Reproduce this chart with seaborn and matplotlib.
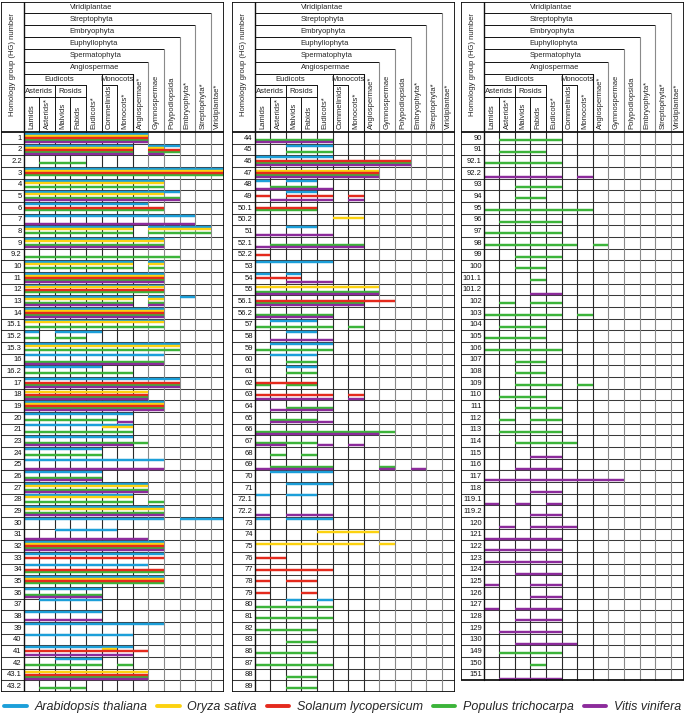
import matplotlib
matplotlib.use("Agg")
import matplotlib.pyplot as plt
import seaborn as sns
import pandas as pd
from matplotlib.lines import Line2D

sns.set_theme(style="white")
plt.rcParams["font.family"] = ["Liberation Sans", "DejaVu Sans"]

# ---------------- data ----------------
COLUMNS = ["Lamids", "Asterids*", "Malvids", "Fabids", "Eudicots*", "Commelinids",
           "Monocots*", "Angiospermae*", "Gymnospermae", "Polypodiopsida",
           "Embryophyta*", "Streptophyta*", "Viridiplantae*"]
SPECIES = ["Arabidopsis thaliana", "Oryza sativa", "Solanum lycopersicum",
           "Populus trichocarpa", "Vitis vinifera"]
CODES = ["A", "O", "S", "P", "V"]
COLORS = ["#1c9fd9", "#fcd20f", "#e42a1d", "#3cb43a", "#8c2b9b"]

LEVELS = ["Viridiplantae", "Streptophyta", "Embryophyta", "Euphyllophyta",
          "Spermatophyta", "Angiospermae"]

PANEL1_HG = ["1", "2", "2.2", "3", "4", "5", "6", "7", "8", "9", "9.2", "10", "11", "12",
             "13", "14", "15.1", "15.2", "15.3", "16", "16.2", "17", "18", "19", "20",
             "21", "23", "24", "25", "26", "27", "28", "29", "30", "31", "32", "33",
             "34", "35", "36", "37", "38", "39", "40", "41", "42", "43.1", "43.2"]
PANEL1_SPANS = [
    "A0-7 O0-7 S0-7 P0-7 V0-7", "A0-6,8-9 O0-6,8 S0-6,8-9 P0-6,8-9 V0-6,8", "P1-3",
    "A0-12 O0-12 S0-12 P0-12", "A0-8 O0-8 P0-8", "A0-9 O0-8 P0-9 V0-9", "A0-7 S0-8 P0-8",
    "A0-10 V0-10", "A0-6,8-11 O0-6,8-11 P0-6,8-11", "A0-8 O0-8 P0-8 V0-8", "P0-9",
    "A0-6,8 O0-6,8 P0-6,8", "A0-8 O0-8 S0-8 P0-8 V0-8", "A0-8 O0-8 S0-8 P0-8",
    "A0-6,8,10 O0-6,8 P0-6,8 V0-6,8", "A0-8 O0-8 S0-8 P0-8 V0-8", "A0-8 O0-8 P0-8",
    "A0,2-4 P0,2-3", "A0-9 O0-9 P0-9", "A0-8 P0-8 V0-8", "A0-4 P0-6",
    "A0-9 S0-9 P0-9 V0-9", "O0-7 S0-7 P0-7 V0-7", "A0-8 O0-8 S0-8 P0-8 V0-8",
    "A0-6 P0-5 V6", "A0-6 O5-6 P0-6", "A0-6 P0-7 V0-6", "A0-4 P0-4", "A0-8 V0-8",
    "A0-4 P0-4 V0-4", "A0-7 O0-7 P0-7 V0-7", "A0-6 O0-6 P0-6,8", "A0-8 O0-8 P0-8 V0-8",
    "A0-8,10-12", "A2-5 V0-7", "A0-8 O0-8 S0-8 P0-8 V0-8", "A0-8 S0-8",
    "A0-7 S0-8 P0-8", "A0-8 O0-8 S0-8 P0-8", "A0-4 P0-4 V0-4", "A1-4", "A0-4 V0-4",
    "A0-8", "A0-6", "A0-6 O5 S0-7 V0-6", "A2-4 P0-4,6", "O0-7 S0-7 P0-7 V0-7", "P1-3"]

PANEL2_HG = ["44", "45", "46", "47", "48", "49", "50.1", "50.2", "51", "52.1", "52.2",
             "53", "54", "55", "56.1", "56.2", "57", "58", "59", "60", "61", "62", "63",
             "64", "65", "66", "67", "68", "69", "70", "71", "72.1", "72.2", "73", "74",
             "75", "76", "77", "78", "79", "80", "81", "82", "83", "86", "87", "88", "89"]
PANEL2_SPANS = [
    "P0-4 V0-4", "A2-4 P2-4", "A0-4 S0-9 P0-9 V0-9", "O0-7 S0-7 P0-7 V0-7",
    "A0,2-3 P1-3 V0-4", "A2-3 S0,2-4,6 V1-4,6", "S0-3 P0-3", "O5-6", "A2-3 V0-4",
    "P1-6 V0-6", "S0", "A0-4", "A0,2 S0-2 V2-4", "O0-7 P0-7 V0-7", "S0-8 P0-6 V0-6",
    "P0-4 V0-4", "A1-3 P0-4,6", "A2-3 V1-4", "A1-4 P0-4", "A1-3 P2-3", "A2-3 P2-3",
    "S0-3 P0,2-3", "S0-4,6 V0-4,6", "P2-4 V1-4", "P1-3 V1-4", "P0-8 V0-7",
    "P0-3 V0-1,4,6", "P1,3", "P1-4,8 V0-4,8,10", "A1-4", "A2-4", "A0,2-3", "V0,2-4",
    "A0,2-4", "O4-7", "O0-6,8", "S0-1", "S0-4", "S0,2-3", "S0,3", "A2,4 P0-4", "P0-4",
    "P0-3", "P2-3", "P0-3", "P0-4", "P2-3", "P2-3"]

PANEL3_HG = ["90", "91", "92.1", "92.2", "93", "94", "95", "96", "97", "98", "99", "100",
             "101.1", "101.2", "102", "103", "104", "105", "106", "107", "108", "109",
             "110", "111", "112", "113", "114", "115", "116", "117", "118", "119.1",
             "119.2", "120", "121", "122", "123", "124", "125", "126", "127", "128",
             "129", "130", "149", "150", "151"]
PANEL3_SPANS = [
    "P1-4", "P1-3", "P0-4", "V0-4,6", "P2-4", "P2-3", "P0-6", "P1-4", "P0-4", "P0-5,7",
    "P2-4", "P2-3", "P3", "V3-4", "P1,3-4", "P0-4,6", "P1-3", "P0-3", "P0-4", "P2-3",
    "P2-3", "P2-4,6", "P1-3", "P2-4", "P1,3-4", "P1-4", "P2-5", "V3-4", "V2-4", "V0-8",
    "V3-4", "V0,2,4", "V3-4", "V1,3-5", "V0-4", "V0-4", "V0-4", "V2-4", "V0,3-4", "V3-4",
    "V0,2-4", "V2-4", "V1-4", "V2-5", "P1-4", "P3", "V1-4"]

PANELS = [(PANEL1_HG, PANEL1_SPANS), (PANEL2_HG, PANEL2_SPANS), (PANEL3_HG, PANEL3_SPANS)]

# ---------------- layout ----------------
EDGES = list(range(13)) + [12.85]
XL = -1.45
XR = EDGES[-1]
TOP = -11.2
NMAX = 48
LEVEL_BOTTOMS = [-10.2, -9.15, -8.15, -7.1, -6.05, -5.0]
LEVEL_RIGHT = [12, 11, 10, 9, 8, 7]
SLOT = {"A": 0.15, "O": 0.32, "S": 0.5, "P": 0.68, "V": 0.85}
FS = 5.5


def parse(spec):
    out = []
    for tok in spec.split():
        code, ranges = tok[0], tok[1:]
        for r in ranges.split(","):
            if "-" in r:
                a, b = r.split("-")
            else:
                a = b = r
            out.append((code, int(a), int(b)))
    return out


records = []
for p, (hgs, spans) in enumerate(PANELS):
    for r, (hg, spec) in enumerate(zip(hgs, spans)):
        for code, a, b in parse(spec):
            records.append(dict(panel=p, row=r, hg=hg, species=SPECIES[CODES.index(code)],
                                code=code, x0=EDGES[a], x1=EDGES[b + 1],
                                y=r + SLOT[code]))
df = pd.DataFrame(records)
palette = dict(zip(SPECIES, sns.color_palette(COLORS)))

W, H = 685, 715
fig = plt.figure(figsize=(W / 100, H / 100), dpi=100)
fig.patch.set_facecolor("white")
panel_px = [(1, 224), (232, 455), (461, 684)]
top_px, bot_px = 1.5, 692.0

dark = "#111111"
hgrid = "#3a3a3a"
vdark = "#2a2a2a"
vlight = "#8a8a8a"

for p, (hgs, spans) in enumerate(PANELS):
    l, r = panel_px[p]
    ax = fig.add_axes([l / W, 1 - bot_px / H, (r - l) / W, (bot_px - top_px) / H])
    ax.set_xlim(XL, XR)
    ax.set_ylim(NMAX, TOP)
    ax.axis("off")
    n = len(hgs)

    # body grid
    for i in range(1, n):
        ax.plot([XL, XR], [i, i], color=hgrid, lw=0.75, zorder=1)
    for k, x in enumerate(EDGES[1:-1], start=1):
        ax.plot([x, x], [0, n], color=vdark if k <= 7 else vlight, lw=0.8, zorder=1)

    # species lines
    sub = df[df.panel == p]
    for sp, g in sub.groupby("species"):
        lc = ax.hlines(g.y, g.x0, g.x1, color=palette[sp], lw=1.75, zorder=3)
        lc.set_capstyle("butt")

    # row labels
    for i, hg in enumerate(hgs):
        ax.text(-0.12, i + 0.52, hg, ha="right", va="center", fontsize=FS, color="#111111")

    # header structure
    prev = TOP
    for name, yb, xr in zip(LEVELS, LEVEL_BOTTOMS, LEVEL_RIGHT):
        ax.plot([0, xr], [yb, yb], color=dark, lw=0.7, zorder=2)
        ax.plot([xr, xr], [yb, 0], color=vlight if xr >= 8 else dark, lw=0.8, zorder=2)
        ax.text(2.95, (prev + yb) / 2, name, ha="left", va="center", fontsize=FS)
        prev = yb
    # Eudicots / Monocots
    ax.plot([0, 4], [-4.0, -4.0], color=dark, lw=0.7)
    ax.plot([5, 6], [-4.0, -4.0], color=dark, lw=0.7)
    for x, y0 in [(4, -4.0), (5, -5.0), (6, -4.0), (2, -4.0), (1, -3.0), (3, -3.0)]:
        ax.plot([x, x], [y0, 0], color=dark, lw=0.7)
    ax.text(2.3, -4.5, "Eudicots", ha="center", va="center", fontsize=FS)
    ax.text(6.0, -4.5, "Monocots", ha="center", va="center", fontsize=FS)
    ax.plot([0, 4], [-3.0, -3.0], color=dark, lw=0.7)
    ax.text(1.0, -3.5, "Asterids", ha="center", va="center", fontsize=FS)
    ax.text(3.0, -3.5, "Rosids", ha="center", va="center", fontsize=FS)
    for i, c in enumerate(COLUMNS):
        xc = (EDGES[i] + EDGES[i + 1]) / 2
        ax.text(xc, -0.3, c, rotation=90, ha="center", va="bottom", fontsize=FS)
    ax.text((XL + 0) / 2, -5.8, "Homology group (HG) number", rotation=90,
            ha="center", va="center", fontsize=FS)

    # borders
    ax.plot([0, 0], [TOP, n], color=dark, lw=1.0, zorder=4)
    ax.plot([XL, XR], [0, 0], color=dark, lw=1.3, zorder=4)
    ax.plot([XL, XR, XR, XL, XL], [TOP, TOP, n, n, TOP], color=dark, lw=1.3,
            zorder=5, solid_joinstyle="miter")

handles = [Line2D([0], [0], color=palette[s], lw=2.8) for s in SPECIES]
fig.legend(handles, SPECIES, loc="center", bbox_to_anchor=(0.5, 1 - 707 / H), ncol=5,
           frameon=False, prop={"style": "italic", "size": 9}, handlelength=1.8,
           handletextpad=0.6, columnspacing=0.8, borderpad=0)

fig.savefig("out.png", dpi=100, facecolor="white")
